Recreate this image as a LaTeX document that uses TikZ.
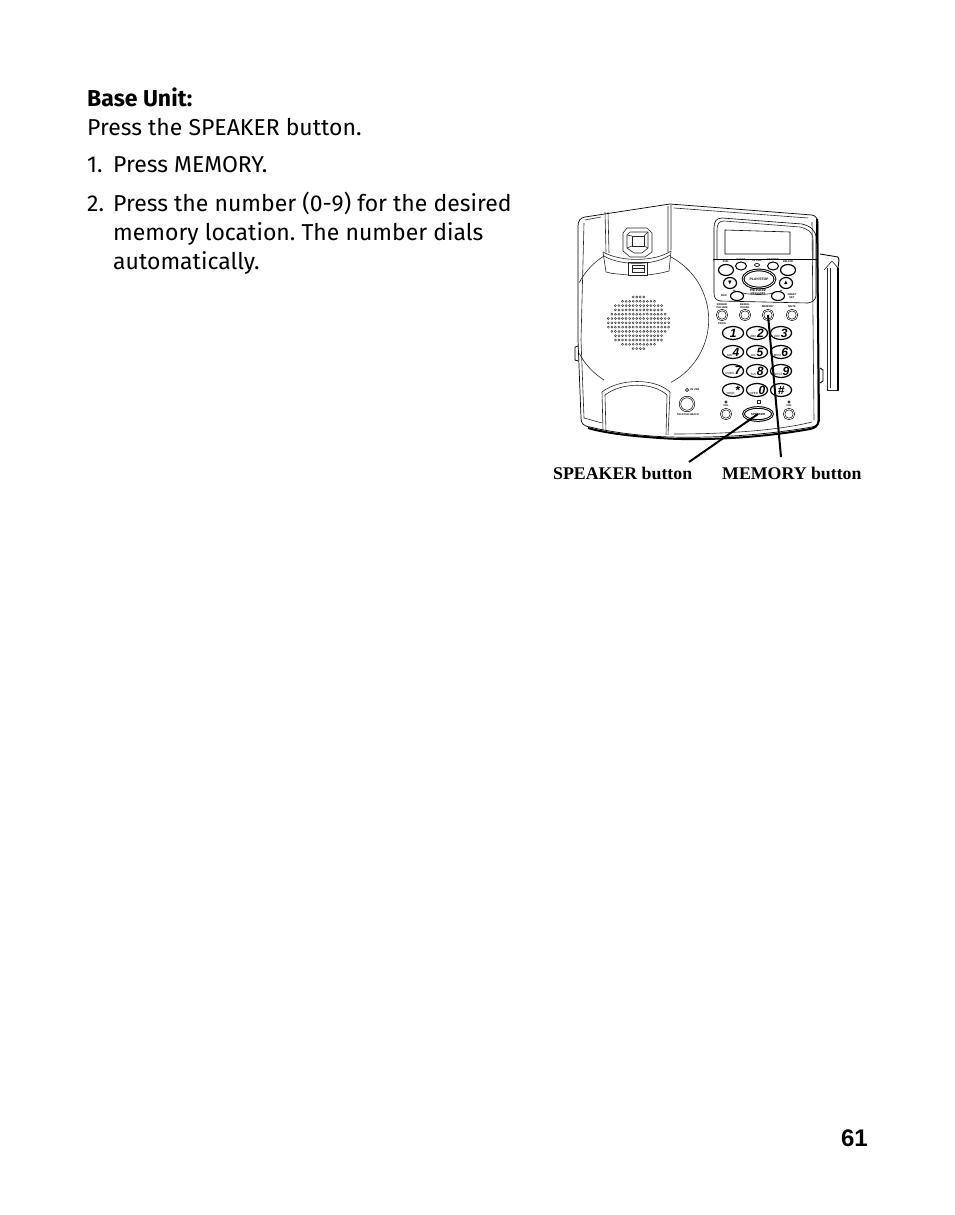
\documentclass[tikz,border=0pt]{standalone}
\usepackage{amssymb}
\usepackage{fontspec}
\setmainfont{Fira Sans}
\newfontfamily\labelfont{Liberation Serif}
\newfontfamily\pagefont{Liberation Sans}
\usetikzlibrary{shapes.geometric}
\begin{document}
\begin{tikzpicture}[x=1pt, y=-1pt]
    \tikzstyle{body} = [font=\frenchspacing\fontsize{23}{28}\selectfont, anchor=base west, inner sep=0pt]
    \tikzstyle{callout} = [font=\labelfont\bfseries\fontsize{17.8}{20}\selectfont, anchor=base west, inner sep=0pt]
    \tikzstyle{outline} = [line width=0.6pt, black!85]
    \tikzstyle{tinytext} = [font=\pagefont\bfseries\fontsize{2.6}{3}\selectfont, inner sep=0pt, align=center]
    \tikzstyle{oval} = [ellipse, draw=black, line width=0.7pt, inner sep=0pt, fill=white]
    \tikzstyle{roundbtn} = [circle, draw=black, line width=0.6pt, inner sep=0pt, minimum size=10pt, double=white, double distance=0.8pt, fill=white]
    \tikzstyle{dialkey} = [oval, line width=1.2pt, minimum width=19pt, minimum height=13pt, font=\pagefont\fontsize{3}{3}\selectfont, text width=15pt, align=center]
    \tikzstyle{pointer} = [line width=2pt, black]
    \useasboundingbox (0,0) rectangle (954,1215);

    \node[body] (title) at (87,106) {\textbf{Base Unit:}};
    \node[body] (press) at (87,135) {Press the SPEAKER button.};
    \node[body] (one) at (87,172) {1.};
    \node[body] (onetext) at (113,172) {Press MEMORY.};
    \node[body] (two) at (87,211) {2.};
    \node[body] (twotext) at (113,211) {Press the number (0-9) for the desired};
    \node[body] (twotextb) at (113,240) {memory location. The number dials};
    \node[body] (twotextc) at (113,269) {automatically.};
    \node[font=\pagefont\bfseries\fontsize{24}{28}\selectfont, anchor=base east, inner sep=0pt] (page) at (868,1146) {61};

    % base outline
    \draw[line width=0.7pt] (670,204) -- (812,215) .. controls (816,216) and (817,218) .. (818,222)
        -- (818,420) .. controls (818,424) and (817,426) .. (812,427)
        .. controls (760,436) and (710,438) .. (670,437) .. controls (640,436) and (610,432) .. (590,427)
        .. controls (583,426) and (581,423) .. (581,418) -- (578,340) -- (578,226)
        .. controls (578,221) and (580,218) .. (585,217) -- (670,204);
    \draw[line width=2pt] (817,219) -- (819,420) .. controls (818,426) and (815,428) .. (810,429)
        .. controls (760,438) and (700,441) .. (660,438) .. controls (630,436) and (605,433) .. (588,428);
    \draw[outline] (585,220) -- (601,217) (584,223) -- (581,340) -- (584,418) -- (602,423);
    \draw[outline] (674,208) -- (808,218) (812,222) -- (814,420) (674,434) .. controls (730,434) and (780,430) .. (812,422);
    \draw[black, line width=0.8pt] (575,347) -- (575,360) -- (578,361) (575,347) -- (578,346);
    \draw[line width=0.9pt] (820,368) -- (823,370) -- (823,381) -- (820,383);

    % antenna
    \draw[line width=0.9pt] (820,254) -- (838,257) -- (839,260) -- (838,268);
    \draw[outline] (824,270) -- (832,261) -- (838,268);
    \draw[outline] (827,268) -- (827,390) -- (838,390);
    \draw[line width=2.2pt] (838,268) -- (838,391);
    \draw[outline] (830,268) -- (830,388);

    % handset cradle
    \draw[outline] (605,212) -- (606,252) (608,212) -- (609,253) (671,205) -- (671,250) (668,206) -- (668,252);
    \draw[outline] (603,252) .. controls (620,262) and (655,262) .. (671,251);
    \draw[outline] (604,256) .. controls (620,266) and (655,266) .. (670,255);
    \draw[outline] (603,252) -- (606,272) .. controls (612,274) and (620,274) .. (628,275);
    \draw[outline] (671,251) -- (669,271) .. controls (662,273) and (656,274) .. (647,275);
    \draw[outline] (628,262) -- (647,262) -- (647,275) -- (628,275) -- cycle;
    \draw[outline] (632,265) -- (644,265) -- (644,272) -- (632,272) -- cycle (632,268.5) -- (644,268.5);
    \draw[outline] (627,228) -- (647,228) -- (652,233) -- (652,252) -- (645,257) -- (630,257) -- (623,251) -- (623,233) -- cycle;
    \draw[outline] (630,232) -- (648,232) -- (648,248) -- (642,253) -- (634,253) -- (627,248) -- (627,235) -- cycle;
    \draw[outline] (632,236) -- (644,236) -- (644,246) -- (632,246) -- cycle;
    \draw[outline] (627,235) -- (632,236) (648,232) -- (644,236) (648,248) -- (644,246) (627,248) -- (632,246);

    % speaker
    \draw[outline] (671,257) arc (-62:62:71);
    \draw[outline] (604,256) arc (-122:-152:70);
    \draw[outline] (604,380) arc (122:152:70);
    \foreach \row/\num in {0/4,1/10,2/14,3/14,4/16,5/18,6/18,7/18,8/16,9/14,10/14,11/10,12/4} {
        \pgfmathsetmacro{\last}{\num-1}
        \foreach \col in {0,...,\last} {
            \draw[black!80, line width=0.45pt] ({638.5+3.55*(\col-\last/2)},{297+4.3*\row}) circle (1.05);
        }
    }

    % bottom cradle
    \draw[outline] (602,392) .. controls (620,378) and (655,378) .. (670,392);
    \draw[outline] (605,395) .. controls (622,382) and (653,382) .. (667,395);
    \draw[outline] (602,392) -- (603,431) (605,395) -- (606,432) (670,392) -- (668,435) (667,395) -- (666,435);

    % console
    \draw[line width=0.6pt] (714,259) -- (714,228) .. controls (714,222) and (716,218) .. (722,218)
        -- (802,224) .. controls (810,226) and (816,230) .. (816,238) -- (816,259);
    \draw[outline] (717,259) -- (717,230) .. controls (717,224) and (719,221) .. (724,221)
        -- (800,227) .. controls (808,229) and (813,232) .. (813,240) -- (813,259);
    \draw[line width=0.8pt] (713,259) -- (818,259);
    \draw[line width=0.6pt] (714,259) -- (714,293) .. controls (714,298) and (716,300) .. (720,301) -- (808,303) .. controls (813,302) and (815,300) .. (816,296) -- (816,259);
    \draw[line width=0.6pt] (725,230) -- (790,232) -- (790,254) -- (725,254) -- cycle;

    \node[oval, line width=1.2pt, minimum width=15pt, minimum height=11pt] (dial) at (726,270) {};
    \node[oval, line width=1pt, minimum width=11pt, minimum height=8pt] (redial) at (741,266) {};
    \node[oval, minimum width=5pt, minimum height=3pt] (led) at (757,265) {};
    \node[oval, line width=1pt, minimum width=11pt, minimum height=8pt] (store) at (773,266) {};
    \node[oval, line width=1.2pt, minimum width=15pt, minimum height=11pt] (delete) at (788,270) {};
    \node[tinytext] at (726,262) {DIAL};
    \node[tinytext] at (741,260) {CHECK};
    \node[tinytext] at (757,260.5) {IN USE};
    \node[tinytext] at (773,260) {ANSWER};
    \node[tinytext] at (788,262) {DELETE};

    \draw[outline] (733,290) .. controls (745,296) and (772,296) .. (782,290);
    \node[oval, line width=1pt, minimum width=32pt, minimum height=18pt, double=white, double distance=0.7pt, font=\pagefont\bfseries\itshape\fontsize{3.4}{4}\selectfont] (play) at (759,279) {PLAY/STOP};
    \node[oval, line width=1.2pt, minimum width=13pt, minimum height=11pt, font=\fontsize{6}{6}\selectfont] (down) at (730,283) {$\blacktriangledown$};
    \node[oval, line width=1.2pt, minimum width=13pt, minimum height=11pt, font=\fontsize{6}{6}\selectfont] (up) at (786,283) {$\blacktriangle$};
    \node[tinytext, fill=white, font=\pagefont\bfseries\itshape\fontsize{4}{4}\selectfont] (review) at (758,290) {REVIEW};
    \node[tinytext] at (758,294) {MESSAGES};
    \node[oval, line width=1.1pt, minimum width=13pt, minimum height=9pt] (skip) at (737,296) {};
    \node[oval, line width=1.1pt, minimum width=13pt, minimum height=9pt] (greet) at (778,296) {};
    \node[tinytext] at (724,296) {SKIP};
    \node[tinytext] at (792,296) {GREET\\SET};

    \node[roundbtn] (redialb) at (722,315) {};
    \node[roundbtn] (flash) at (745,315) {};
    \node[roundbtn] (memorybtn) at (768,315) {};
    \node[roundbtn] (mute) at (792,315) {};
    \node[tinytext] at (722,306) {RINGER\\VOLUME};
    \node[tinytext] at (745,306) {REDIAL\\PAUSE};
    \node[tinytext] at (768,306.5) {MEMORY};
    \node[tinytext] at (792,306.5) {MUTE};
    \node[tinytext] at (722,323.5) {PROG};

    % keypad
    \foreach \name/\px/\py/\pre/\digit in {kone/733/333//1, ktwo/757/333/ABC/2, kthree/781/333/DEF/3,
        kfour/733/352/GHI/4, kfive/757/352/JKL/5, ksix/781/352/MNO/6,
        kseven/733/371/PQRS/7, keight/757/371/TUV/8, knine/781/371/WXYZ/9,
        kstar/733/390/TONE/*, kzero/757/390/OPER/0, khash/781/390//\#} {
        \node[dialkey] (\name) at (\px,\py) {\pre\,{\bfseries\itshape\fontsize{12}{12}\selectfont\digit}};
    }

    \node[roundbtn, minimum size=14pt] (dnd) at (687,404) {};
    \draw[outline] (687,390) circle (1.6);
    \node[tinytext] (dndlabel) at (688,414.5) {TALK/CALLBACK};
    \node[tinytext] at (695,390) {IN USE};
    \node[roundbtn] (voldown) at (726,414) {};
    \node[roundbtn] (volup) at (789,414) {};
    \node[tinytext] at (726,405.5) {VOL};
    \node[tinytext] at (789,405.5) {VOL};
    \draw[outline] (726,402) circle (1.1) (789,402) circle (1.1);
    \draw[outline] (757,400.5) rectangle (760,403.5);
    \node[oval, line width=1pt, minimum width=29pt, minimum height=13pt, double=white, double distance=0.6pt, font=\pagefont\bfseries\itshape\fontsize{3}{3}\selectfont] (speakerbtn) at (758,414) {SPEAKER};

    \node[callout] (speakerlabel) at (553,479) {SPEAKER button};
    \node[callout] (memorylabel) at (722,479) {MEMORY button};
    \coordinate (speakerend) at (689,462);
    \coordinate (memoryend) at (781,457);
    \draw[pointer] (speakerend) -- (speakerbtn.center);
    \draw[pointer] (memoryend) -- (memorybtn.center);
\end{tikzpicture}
\end{document}
